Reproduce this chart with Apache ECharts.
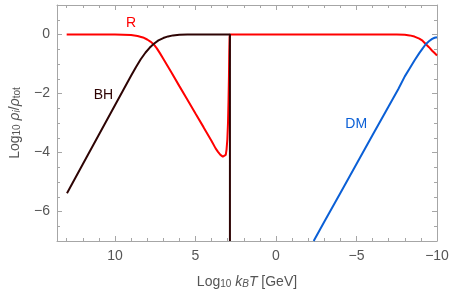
<!DOCTYPE html>
<html>
<head>
<meta charset="utf-8">
<script src="https://cdn.jsdelivr.net/npm/echarts@6/dist/echarts.min.js"></script>
<style>html,body{margin:0;padding:0;background:#fff}#c{width:452px;height:295px}</style>
</head>
<body>
<div id="c"></div>
<script>
// Data (x = log10 kBT [GeV], y = log10 rho_i/rho_tot)
const radiation = [[13.0,0],[12,0],[11,0],[10,0],[9.5,-0.005],[9.0,-0.02],[8.6,-0.05],[8.26,-0.10],[8.0,-0.17],[7.8,-0.24],[7.6,-0.33],[7.4,-0.47],[7.2,-0.64],[7.0,-0.82],[6.5,-1.28],[6.0,-1.75],[5.5,-2.21],[5.0,-2.68],[4.5,-3.14],[4.0,-3.61],[3.75,-3.86],[3.6,-3.98],[3.45,-4.08],[3.3,-4.14],[3.2,-4.14],[3.12,-4.08],[3.07,-3.9],[3.02,-3.55],[2.98,-3.0],[2.95,-2.3],[2.92,-1.4],[2.9,-0.6],[2.88,-0.1],[2.86,0],[2,0],[0,0],[-2,0],[-4,0],[-6,0],[-7.5,0],[-8.0,-0.01],[-8.3,-0.03],[-8.6,-0.07],[-8.9,-0.14],[-9.1,-0.21],[-9.3,-0.32],[-9.5,-0.43],[-9.7,-0.55],[-9.85,-0.63],[-10,-0.71]];
const blackHoles = [[12.98,-5.38],[12,-4.40],[11,-3.40],[10,-2.40],[9.5,-1.90],[9.0,-1.40],[8.7,-1.11],[8.4,-0.84],[8.1,-0.61],[7.85,-0.45],[7.6,-0.32],[7.3,-0.20],[7.0,-0.12],[6.7,-0.065],[6.4,-0.03],[6.0,-0.01],[5.5,0],[2.86,0],[2.86,-7]];
const darkMatter = [[-2.34,-7.0],[-3,-6.35],[-4,-5.37],[-5,-4.39],[-6,-3.41],[-7,-2.43],[-7.6,-1.85],[-8.0,-1.42],[-8.3,-1.15],[-8.6,-0.88],[-8.9,-0.63],[-9.1,-0.48],[-9.3,-0.33],[-9.5,-0.23],[-9.7,-0.15],[-9.85,-0.11],[-10,-0.09]];
const seriesNames = ['R','BH','DM'];
const labelCoords = [[9.0,0.37],[10.72,-2.06],[-4.98,-3.04]];
const xMajorTicks = [-10,-5,0,5,10];
const xMinorTicks = [-10,-9,-8,-7,-6,-5,-4,-3,-2,-1,0,1,2,3,4,5,6,7,8,9,10,11,12,13];
const yMajorTicks = [-6,-4,-2,0];
const yMinorTicks = [-7,-6.5,-6,-5.5,-5,-4.5,-4,-3.5,-3,-2.5,-2,-1.5,-1,-0.5,0,0.5,1];
const X_MIN = -10, X_MAX = 13.6, Y_MIN = -7, Y_MAX = 1;

const FRAME = '#a6a6a6';
const LABEL = '#555555';
const FONT = 'Liberation Sans, Arial, sans-serif';
const colors = ['#ff0000','#2e0404','#0a5fd6'];

function fmt(v){ return v < 0 ? '\u2212' + Math.abs(v) : String(v); }

function xAx(pos, ticks, len, showLabel, showLine){
  return {
    type:'value', position:pos, inverse:true, min:X_MIN, max:X_MAX,
    axisLine:{show:showLine, onZero:false, lineStyle:{color:FRAME,width:1}},
    axisTick:{show:true, inside:true, length:len, customValues:ticks, lineStyle:{color:FRAME,width:1}},
    axisLabel:{show:showLabel, customValues:xMajorTicks, formatter:fmt, color:LABEL, fontSize:14, fontFamily:FONT, margin:8},
    splitLine:{show:false}
  };
}
function yAx(pos, ticks, len, showLabel, showLine){
  return {
    type:'value', position:pos, min:Y_MIN, max:Y_MAX,
    axisLine:{show:showLine, onZero:false, lineStyle:{color:FRAME,width:1}},
    axisTick:{show:true, inside:true, length:len, customValues:ticks, lineStyle:{color:FRAME,width:1}},
    axisLabel:{show:showLabel, customValues:yMajorTicks, formatter:fmt, color:LABEL, fontSize:14, fontFamily:FONT, margin:7},
    splitLine:{show:false}
  };
}

const xAxes = [xAx('bottom', xMajorTicks, 5, true, true), xAx('bottom', xMinorTicks, 3, false, false), xAx('top', xMajorTicks, 5, false, true), xAx('top', xMinorTicks, 3, false, false)];
const yAxes = [yAx('left', yMajorTicks, 5, true, true), yAx('left', yMinorTicks, 3, false, false), yAx('right', yMajorTicks, 5, false, true), yAx('right', yMinorTicks, 3, false, false)];

const rich = {
  n:{fontSize:14, color:LABEL, fontFamily:FONT, verticalAlign:'bottom', lineHeight:18},
  i:{fontSize:14, color:LABEL, fontFamily:FONT, fontStyle:'italic', verticalAlign:'bottom', lineHeight:18},
  s:{fontSize:10, color:LABEL, fontFamily:FONT, verticalAlign:'bottom', lineHeight:14},
  si:{fontSize:10, color:LABEL, fontFamily:FONT, fontStyle:'italic', verticalAlign:'bottom', lineHeight:14}
};
xAxes[0].name = '{n|Log}{s|10}{n| }{i|k}{si|B}{i|T}{n| [GeV]}';
xAxes[0].nameLocation = 'middle';
xAxes[0].nameGap = 30;
xAxes[0].nameTextStyle = {color:LABEL, fontFamily:FONT, rich:rich};
yAxes[0].name = '{n|Log}{s|10}{n| }{i|\u03c1}{si|i}{n|/}{i|\u03c1}{s|tot}';
yAxes[0].nameLocation = 'middle';
yAxes[0].nameRotate = 90;
yAxes[0].nameGap = 35;
yAxes[0].nameTextStyle = {color:LABEL, fontFamily:FONT, rich:rich};

const datasets = [radiation, blackHoles, darkMatter];
const series = datasets.map((d,i)=>({
  type:'line', name:seriesNames[i], data:d, xAxisIndex:0, yAxisIndex:0,
  showSymbol:false, symbol:'none', smooth:false, clip:true,
  lineStyle:{color:colors[i], width:2}, z:2+i,
  markPoint:{symbol:'circle', symbolSize:2, silent:true, animation:false,
    itemStyle:{color:'rgba(0,0,0,0)'},
    label:{show:true, position:'inside', color:colors[i], fontSize:14, fontFamily:FONT, formatter:seriesNames[i]},
    data:[{coord:labelCoords[i], value:seriesNames[i]}]}
}));

const chart = echarts.init(document.getElementById('c'), null, {renderer:'canvas'});
chart.setOption({
  animation:false,
  backgroundColor:'#ffffff',
  grid:{left:53, right:15, top:5, bottom:54, containLabel:false},
  xAxis:xAxes, yAxis:yAxes, series:series
});
</script>
</body>
</html>
